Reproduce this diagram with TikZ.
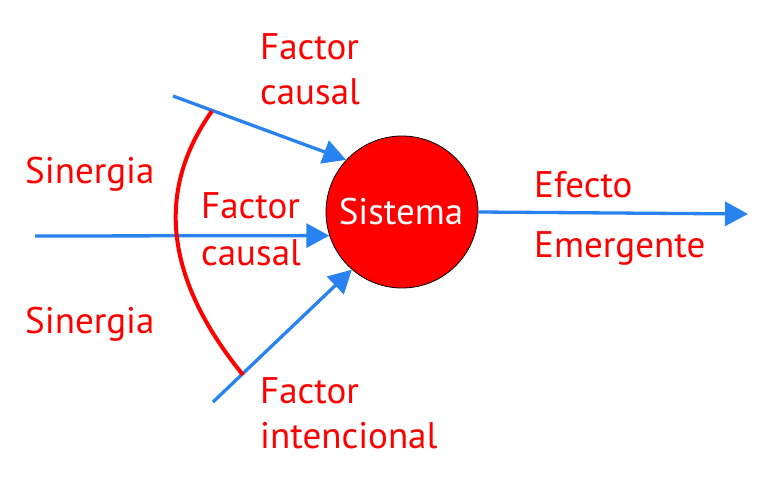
\documentclass[tikz,border=0pt]{standalone}
\usepackage{fontspec}
\setmainfont{PT Sans}
\usetikzlibrary{arrows.meta}
\definecolor{arrowblue}{RGB}{40,130,240}
\definecolor{labelred}{RGB}{255,0,0}
\tikzset{
  flow/.style={draw=arrowblue, line width=3.3pt, -{Triangle[length=23pt,width=24pt]}},
  lbl/.style={text=labelred, anchor=base west, inner sep=0pt, font=\fontsize{37}{45}\selectfont},
  sysnode/.style={circle, fill=labelred, draw=black, line width=0.8pt, minimum size=152pt, inner sep=0pt,
    text=white, font=\fontsize{37}{45}\selectfont},
  synarc/.style={draw=labelred, line width=4pt}
}
\begin{document}
\begin{tikzpicture}[x=1pt, y=-1pt]
\useasboundingbox (0,0) rectangle (771,479);
% system
\node[sysnode] (sys) at (402,212) {};
\node[text=white, anchor=base, inner sep=0pt, font=\fontsize{37}{45}\selectfont] (systxt) at (401,224) {Sistema};
% arrow starts
\coordinate (s1) at (173,96);
\coordinate (s2) at (35,236);
\coordinate (s3) at (213,402);
\coordinate (eout) at (748,214);
\draw[flow] (s1) -- (sys.137);
\draw[flow] (s2) -- (sys.198);
\draw[flow] (s3) -- (sys.229);
\draw[flow] (sys.east) -- (eout);
% synergy arc
\coordinate (a1) at (212,111);
\coordinate (a2) at (243,375);
\draw[synarc] (a1) .. controls (155,191) and (165,279) .. (a2);
% labels
\node[lbl] (f1a) at (260,59) {Factor};
\node[lbl] (f1b) at (260,104) {causal};
\node[lbl] (sin1) at (25,183) {Sinergia};
\node[lbl] (f2a) at (201,218) {Factor};
\node[lbl] (f2b) at (201,265) {causal};
\node[lbl] (sin2) at (25,333) {Sinergia};
\node[lbl] (ef1) at (534,197) {Efecto};
\node[lbl] (ef2) at (534,257) {Emergente};
\node[lbl] (f3a) at (260,403) {Factor};
\node[lbl] (f3b) at (260,448) {intencional};
\end{tikzpicture}
\end{document}
